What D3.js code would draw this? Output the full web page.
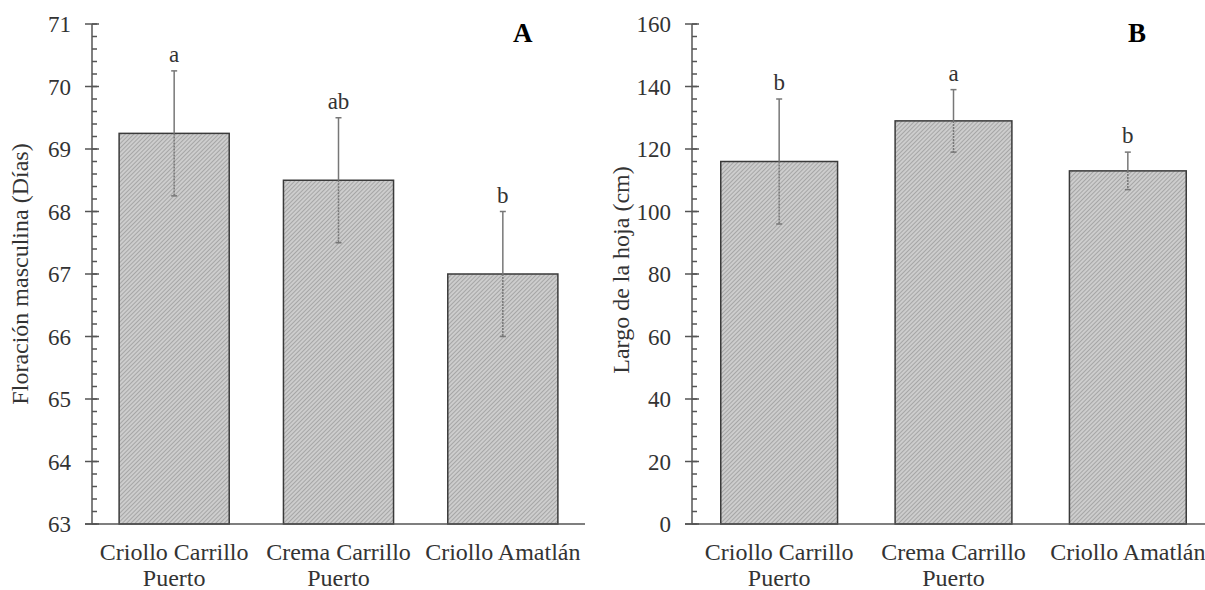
<!DOCTYPE html>
<html>
  <head>
    <meta charset="utf-8">
    <title>Floracion masculina y largo de la hoja</title>
    <script src="https://cdn.jsdelivr.net/npm/d3@7"></script>
    <style>
      body { margin: 0; background: white; }
      .tick_label, .cat_label, .axis_title, .letter {
        font-family: 'Liberation Serif', 'Times New Roman', serif;
        fill: #333;
      }
      .tick_label { font-size: 23px; text-anchor: end; }
      .cat_label { font-size: 24px; text-anchor: middle; }
      .axis_title { font-size: 24px; text-anchor: middle; }
      .letter { font-size: 23px; text-anchor: middle; }
      .panel_tag {
        font-family: 'Liberation Serif', serif;
        font-size: 27px;
        font-weight: bold;
        fill: black;
      }
      .axis_line { stroke: #555; stroke-width: 1.5px; }
      .bar { fill: url(#hatch); stroke: #3a3a3a; stroke-width: 1.5px; }
      .err { stroke: #777; stroke-width: 1.5px; }
    </style>
  </head>
  <body>
    <script>

      // data
      var categories = [["Criollo Carrillo", "Puerto"], ["Crema Carrillo", "Puerto"], ["Criollo Amatlán"]];

      var floracion = [69.25, 68.5, 67];
      var floracionErr = [1, 1, 1];
      var floracionLetters = ["a", "ab", "b"];
      var floracionTicks = [63, 64, 65, 66, 67, 68, 69, 70, 71];

      var largo = [116, 129, 113];
      var largoErr = [20, 10, 6];
      var largoLetters = ["b", "a", "b"];
      var largoTicks = [0, 20, 40, 60, 80, 100, 120, 140, 160];

      var width = 1205, height = 590;

      var svg = d3.select("body").append("svg")
        .attr("width", width)
        .attr("height", height);

      // hatch pattern for the bars
      var pat = svg.append("defs").append("pattern")
        .attr("id", "hatch")
        .attr("patternUnits", "userSpaceOnUse")
        .attr("width", 3)
        .attr("height", 3)
        .attr("patternTransform", "rotate(45)");
      pat.append("rect").attr("width", 3).attr("height", 3).attr("fill", "#cdcdcd");
      pat.append("line")
        .attr("x1", 0).attr("y1", 0).attr("x2", 0).attr("y2", 3)
        .attr("stroke", "#8c8c8c").attr("stroke-width", 1.2);

      function drawPanel(opts) {
        var g = svg.append("g");

        var x = d3.scaleBand()
          .domain(d3.range(categories.length))
          .range([opts.x0, opts.x1])
          .paddingInner(0.33)
          .paddingOuter(0.165);

        var y = d3.scaleLinear()
          .domain([opts.ticks[0], opts.ticks[opts.ticks.length - 1]])
          .range([524, 24]);

        // minor ticks (5 per major interval)
        var step = (opts.ticks[1] - opts.ticks[0]) / 5;
        var minor = d3.range(opts.ticks[0], opts.ticks[opts.ticks.length - 1] + step / 2, step);
        g.selectAll(".minor")
          .data(minor)
          .enter()
          .append("line")
          .attr("class", "axis_line")
          .attr("x1", opts.x0)
          .attr("x2", opts.x0 + 5)
          .attr("y1", function(d) { return y(d); })
          .attr("y2", function(d) { return y(d); });

        // bars
        g.selectAll(".bar")
          .data(opts.values)
          .enter()
          .append("rect")
          .attr("class", "bar")
          .attr("x", function(d, i) { return x(i); })
          .attr("width", x.bandwidth())
          .attr("y", function(d) { return y(d); })
          .attr("height", function(d) { return y(opts.ticks[0]) - y(d); });

        // error bars
        opts.values.forEach(function(v, i) {
          var cx = x(i) + x.bandwidth() / 2;
          var e = opts.errs[i];
          g.append("line").attr("class", "err")
            .attr("x1", cx).attr("x2", cx)
            .attr("y1", y(v + e)).attr("y2", y(v));
          g.append("line").attr("class", "err")
            .attr("stroke-dasharray", "2,1")
            .attr("x1", cx).attr("x2", cx)
            .attr("y1", y(v)).attr("y2", y(v - e));
          [v + e, v - e].forEach(function(c) {
            g.append("line").attr("class", "err")
              .attr("x1", cx - 3).attr("x2", cx + 3)
              .attr("y1", y(c)).attr("y2", y(c));
          });
          g.append("text").attr("class", "letter")
            .attr("x", cx)
            .attr("y", y(v + e) - 9)
            .text(opts.letters[i]);
        });

        // y axis
        g.append("line").attr("class", "axis_line")
          .attr("x1", opts.x0).attr("x2", opts.x0)
          .attr("y1", y.range()[1]).attr("y2", y.range()[0]);
        g.selectAll(".major")
          .data(opts.ticks)
          .enter()
          .append("line")
          .attr("class", "axis_line")
          .attr("x1", opts.x0 - 7)
          .attr("x2", opts.x0 + 7)
          .attr("y1", function(d) { return y(d); })
          .attr("y2", function(d) { return y(d); });
        g.selectAll(".tick_label")
          .data(opts.ticks)
          .enter()
          .append("text")
          .attr("class", "tick_label")
          .attr("x", opts.x0 - 21)
          .attr("y", function(d) { return y(d) + 8; })
          .text(function(d) { return d; });

        // x axis
        g.append("line").attr("class", "axis_line")
          .attr("x1", opts.x0 - 7).attr("x2", opts.x1)
          .attr("y1", y.range()[0]).attr("y2", y.range()[0]);

        // category labels
        categories.forEach(function(lines, i) {
          var t = g.append("text").attr("class", "cat_label")
            .attr("x", x(i) + x.bandwidth() / 2)
            .attr("y", 560);
          lines.forEach(function(s, k) {
            t.append("tspan")
              .attr("x", x(i) + x.bandwidth() / 2)
              .attr("dy", k == 0 ? 0 : 26)
              .text(s);
          });
        });

        // axis title
        g.append("text").attr("class", "axis_title")
          .attr("transform", "translate(" + opts.titleX + "," + opts.titleY + ") rotate(-90)")
          .text(opts.title);

        // panel tag
        g.append("text").attr("class", "panel_tag")
          .attr("x", opts.tagX)
          .attr("y", 42)
          .text(opts.tag);
      }

      drawPanel({
        x0: 92, x1: 585, values: floracion, errs: floracionErr,
        letters: floracionLetters, ticks: floracionTicks,
        title: "Floración masculina (Días)", titleX: 28, titleY: 274, tag: "A", tagX: 513
      });

      drawPanel({
        x0: 692, x1: 1215, values: largo, errs: largoErr,
        letters: largoLetters, ticks: largoTicks,
        title: "Largo de la hoja (cm)", titleX: 629, titleY: 270, tag: "B", tagX: 1128
      });

    </script>
  </body>
</html>
